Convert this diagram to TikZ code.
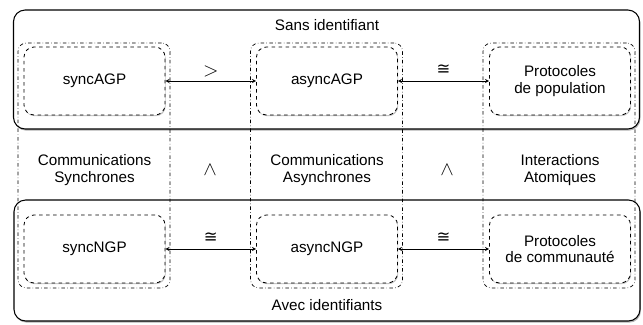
\documentclass[tikz,border=0pt]{standalone}
\usepackage{fontspec}
\setmainfont{Liberation Sans}
\newfontfamily\symbfont{DejaVu Sans}
\usetikzlibrary{shadows}

\begin{document}
\begin{tikzpicture}[x=0.03cm, y=-0.03cm, >=stealth,
  every node/.style={
    font=\fontsize{13}{14}\selectfont
  },
  famille/.style={
    rectangle,
    rounded corners=3.5mm,
    draw,
    line width=0.9pt,
    fill=white,
    minimum width=18.78cm,
    drop shadow={shadow xshift=0.8pt, shadow yshift=-1.4pt, opacity=0.6}
  },
  colonne/.style={
    rectangle,
    rounded corners=2.5mm,
    draw,
    dash dot,
    line width=0.6pt,
    minimum width=4.56cm,
    minimum height=7.35cm
  },
  modele/.style={
    align=center,
    rectangle,
    draw,
    dashed,
    line width=0.7pt,
    fill=white,
    rounded corners=3mm,
    minimum width=4.23cm,
    minimum height=2.04cm,
    drop shadow={shadow xshift=0.6pt, shadow yshift=-1pt, opacity=0.5}
  },
  texte/.style={
    align=center
  },
  rel/.style={
    font=\fontsize{18}{18}\selectfont,
    inner sep=1pt
  },
  iso/.style={
    font=\symbfont\fontsize{14}{14}\selectfont,
    inner sep=1pt
  },
  lien/.style={
    <->,
    line width=0.6pt
  }
  ]

  \useasboundingbox (0,0) rectangle (643,324);

  \pgfmathsetmacro{\yh}{81}
  \pgfmathsetmacro{\ym}{170}
  \pgfmathsetmacro{\yb}{249}

  \node [famille, minimum height=3.57cm] (sansid) at (326.5,69.5) {};
  \node [famille, minimum height=3.63cm] (avecid) at (327,260.5) {};

  \node [colonne] (colsync) at (94,165.5) {};
  \node [colonne] (colasync) at (326.5,165.5) {};
  \node [colonne] (colatom) at (559,165.5) {};

  \node [modele] (syncAGP) at (94.5,\yh) {syncAGP};
  \node [modele] (asyncAGP) at (327,\yh) {asyncAGP};
  \node [modele] (popul) at (560,\yh) {Protocoles\\de population};

  \node [modele] (syncNGP) at (94.5,\yb) {syncNGP};
  \node [modele] (asyncNGP) at (327,\yb) {asyncNGP};
  \node [modele] (commu) at (560,\yb) {Protocoles\\de communauté};

  \draw [lien] (syncAGP) -- node [rel, above=2pt] {$>$} (asyncAGP);
  \draw [lien] (asyncAGP) -- node [iso, above=4pt] {≅} (popul);
  \draw [lien] (syncNGP) -- node [iso, above=4pt] {≅} (asyncNGP);
  \draw [lien] (asyncNGP) -- node [iso, above=4pt] {≅} (commu);

  \node [texte] (csync) at (94.5,\ym) {Communications\\Synchrones};
  \node [texte] (casync) at (327,\ym) {Communications\\Asynchrones};
  \node [texte] (iatom) at (560,\ym) {Interactions\\Atomiques};

  \node [rel, rotate=90] (inf1) at (210,\ym) {$>$};
  \node [rel, rotate=90] (inf2) at (447,\ym) {$>$};

  \node (tsans) at (327,25) {Sans identifiant};
  \node (tavec) at (327,305) {Avec identifiants};

\end{tikzpicture}
\end{document}
